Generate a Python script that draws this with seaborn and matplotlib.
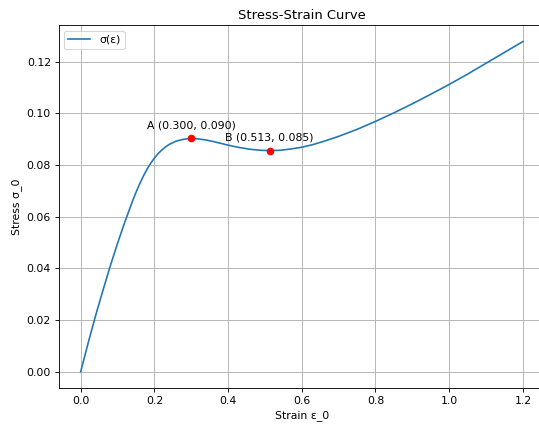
import matplotlib
matplotlib.use("Agg")
import matplotlib.pyplot as plt
import seaborn as sns
import pandas as pd

# Strain / stress samples of the constitutive curve
strain = [0.00, 0.02, 0.04, 0.06, 0.08, 0.10, 0.12, 0.14, 0.15, 0.16,
          0.17, 0.18, 0.19, 0.20, 0.21, 0.22, 0.23, 0.24, 0.26, 0.28,
          0.30, 0.32, 0.34, 0.36, 0.38, 0.40, 0.43, 0.46, 0.49, 0.513,
          0.54, 0.57, 0.60, 0.63, 0.66, 0.70, 0.75, 0.80, 0.85, 0.90,
          0.95, 1.00, 1.05, 1.10, 1.15, 1.20]
stress = [0.0000, 0.0110, 0.0215, 0.0313, 0.0408, 0.0497, 0.0580, 0.0658, 0.0694, 0.0727,
          0.0757, 0.0784, 0.0807, 0.0827, 0.0844, 0.0858, 0.0870, 0.0880, 0.0893, 0.0900,
          0.0903, 0.0901, 0.0897, 0.0891, 0.0884, 0.0877, 0.0868, 0.0861, 0.0857, 0.0856,
          0.0857, 0.0862, 0.0869, 0.0879, 0.0892, 0.0911, 0.0938, 0.0969, 0.1002, 0.1037,
          0.1074, 0.1112, 0.1152, 0.1194, 0.1236, 0.1278]

# Extremum points marked on the curve
point_names = ["A", "B"]
point_strain = [0.300, 0.513]
point_stress = [0.090, 0.085]
point_curve_stress = [0.0903, 0.0856]

df = pd.DataFrame({"strain": strain, "stress": stress})

DPI = 78.5
fig = plt.figure(figsize=(539 / DPI, 426 / DPI), dpi=DPI)
ax = fig.add_axes([0.1087, 0.0887, 0.9024, 0.8525])

sns.lineplot(data=df, x="strain", y="stress", ax=ax, label="σ(ε)",
             color="#1f77b4", linewidth=1.5)

for name, xs, ys, yc in zip(point_names, point_strain, point_stress, point_curve_stress):
    ax.plot(xs, yc, "o", color="red", markersize=6)
    ax.annotate(f"{name} ({xs:.3f}, {ys:.3f})", (xs, yc),
                xytext=(0, 9), textcoords="offset points", ha="center")

ax.set_title("Stress-Strain Curve")
ax.set_xlabel("Strain ε_0")
ax.set_ylabel("Stress σ_0")
ax.grid(True)
ax.legend(loc="upper left")

fig.savefig("out.png", dpi=DPI)
